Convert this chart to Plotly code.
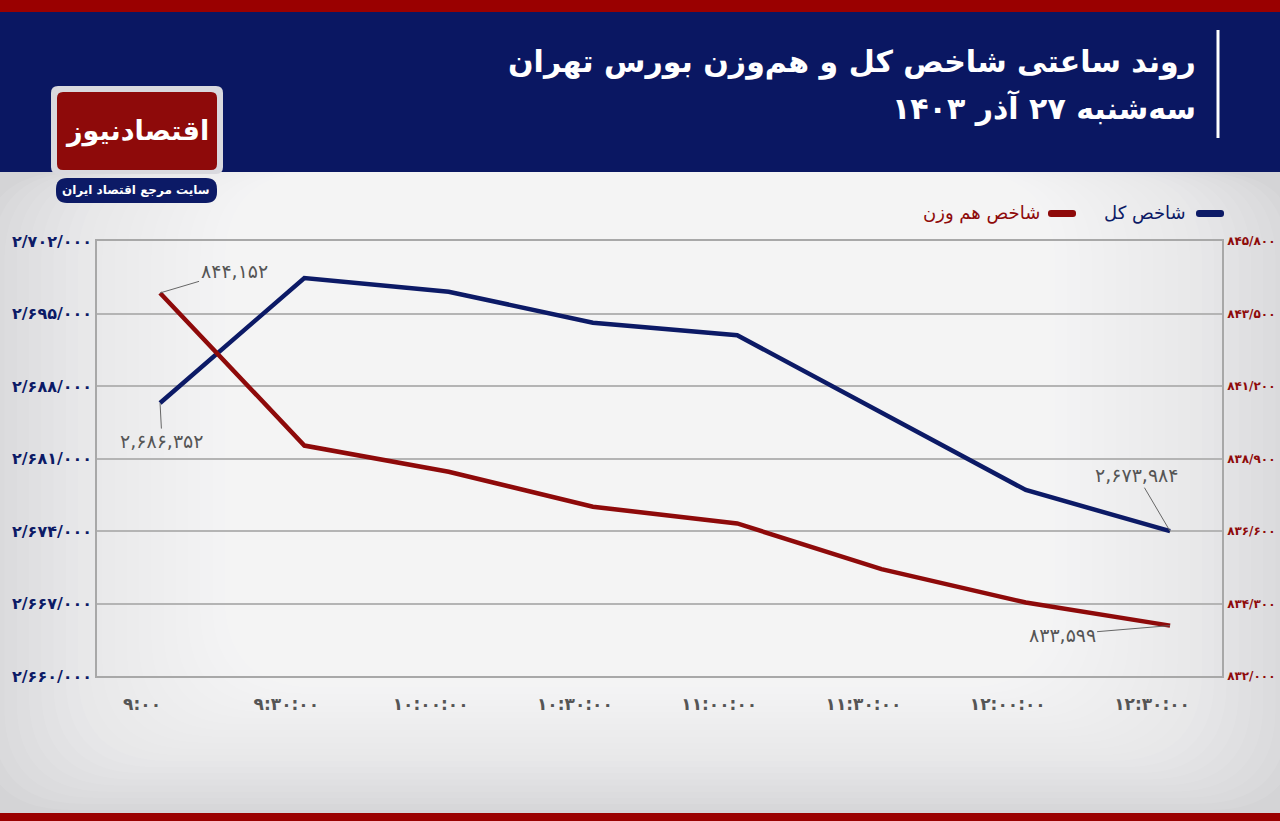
import plotly.graph_objects as go

# ---------------- data ----------------
times = ["۹:۰۰", "۹:۳۰:۰۰", "۱۰:۰۰:۰۰", "۱۰:۳۰:۰۰", "۱۱:۰۰:۰۰", "۱۱:۳۰:۰۰", "۱۲:۰۰:۰۰", "۱۲:۳۰:۰۰"]
total_index = [2686352, 2698430, 2697100, 2694110, 2692900, 2685490, 2677960, 2673984]
equal_weight = [844152, 839310, 838480, 837370, 836840, 835390, 834330, 833599]

left_ticks = [2660000, 2667000, 2674000, 2681000, 2688000, 2695000, 2702000]
left_tick_labels = ["۲/۶۶۰/۰۰۰", "۲/۶۶۷/۰۰۰", "۲/۶۷۴/۰۰۰", "۲/۶۸۱/۰۰۰", "۲/۶۸۸/۰۰۰", "۲/۶۹۵/۰۰۰", "۲/۷۰۲/۰۰۰"]
right_ticks = [832000, 834300, 836600, 838900, 841200, 843500, 845800]
right_tick_labels = ["۸۳۲/۰۰۰", "۸۳۴/۳۰۰", "۸۳۶/۶۰۰", "۸۳۸/۹۰۰", "۸۴۱/۲۰۰", "۸۴۳/۵۰۰", "۸۴۵/۸۰۰"]

name_total = "شاخص کل"
name_equal = "شاخص هم وزن"
title_line1 = "روند ساعتی شاخص کل و هم‌وزن بورس تهران"
title_line2 = "سه‌شنبه ۲۷ آذر ۱۴۰۳"
logo_text = "اقتصادنیوز"
logo_sub = "سایت مرجع اقتصاد ایران"

# ---------------- styling ----------------
NAVY = "#0c1a66"
RED = "#8e0a0a"
FONT = "DejaVu Sans"
W, H = 1280, 821
ML, MR, MT, MB = 97, 58, 241, 145
PW, PH = W - ML - MR, H - MT - MB


def fa(n):
    return f"{n:,}".translate(str.maketrans("0123456789", "۰۱۲۳۴۵۶۷۸۹"))


def px(x):
    return (x - ML) / PW


def py(y):
    return (H - MB - y) / PH


def rrect(x0, y0, x1, y1, r):
    a0, a1 = px(x0), px(x1)
    b0, b1 = py(y1), py(y0)
    rx, ry = r / PW, r / PH
    return (f"M{a0+rx},{b0} L{a1-rx},{b0} Q{a1},{b0} {a1},{b0+ry} L{a1},{b1-ry} "
            f"Q{a1},{b1} {a1-rx},{b1} L{a0+rx},{b1} Q{a0},{b1} {a0},{b1-ry} "
            f"L{a0},{b0+ry} Q{a0},{b0} {a0+rx},{b0} Z")


fig = go.Figure()
fig.add_trace(go.Scatter(x=times, y=total_index, name=name_total, mode="lines",
                         line=dict(color=NAVY, width=4.5), yaxis="y"))
fig.add_trace(go.Scatter(x=times, y=equal_weight, name=name_equal, mode="lines",
                         line=dict(color=RED, width=4.5), yaxis="y2"))

shapes = []
# background gradient (grey edges, white centre)
cx, cy = 640, 470
n = 36
for i in range(n):
    hw = 660 - i * (440 / n)
    hh = 340 - i * (220 / n)
    shapes.append(dict(type="path", xref="paper", yref="paper", layer="below",
                       path=rrect(cx - hw, max(172, cy - hh * 1.4), cx + hw, min(813, cy + hh), 90),
                       fillcolor="white", opacity=0.08, line=dict(width=0)))
# header
shapes.append(dict(type="rect", xref="paper", yref="paper", layer="below",
                   x0=px(0), x1=px(W), y0=py(172), y1=py(12),
                   fillcolor="#0a1762", line=dict(width=0)))
shapes.append(dict(type="rect", xref="paper", yref="paper", layer="below",
                   x0=px(0), x1=px(W), y0=py(12), y1=py(0),
                   fillcolor="#9a0000", line=dict(width=0)))
shapes.append(dict(type="rect", xref="paper", yref="paper", layer="below",
                   x0=px(0), x1=px(W), y0=py(H), y1=py(813),
                   fillcolor="#9a0000", line=dict(width=0)))
# title separator
shapes.append(dict(type="line", xref="paper", yref="paper",
                   x0=px(1218), x1=px(1218), y0=py(30), y1=py(138),
                   line=dict(color="white", width=3)))
# logo
shapes.append(dict(type="path", xref="paper", yref="paper", path=rrect(51, 86, 223, 174, 7),
                   fillcolor="#d9d9de", line=dict(width=0)))
shapes.append(dict(type="path", xref="paper", yref="paper", path=rrect(57, 92, 217, 170, 6),
                   fillcolor=RED, line=dict(width=0)))
shapes.append(dict(type="path", xref="paper", yref="paper", path=rrect(56, 178, 217, 203, 11),
                   fillcolor=NAVY, line=dict(width=0)))
# legend markers
shapes.append(dict(type="path", xref="paper", yref="paper", path=rrect(1196, 210, 1224, 217, 3),
                   fillcolor=NAVY, line=dict(width=0)))
shapes.append(dict(type="path", xref="paper", yref="paper", path=rrect(1048, 210, 1076, 217, 3),
                   fillcolor=RED, line=dict(width=0)))

annotations = [
    dict(text=f"<b>{title_line1}</b>", xref="paper", yref="paper", x=px(1198), y=py(62),
         xanchor="right", yanchor="middle", showarrow=False,
         font=dict(family=FONT, size=30, color="white")),
    dict(text=f"<b>{title_line2}</b>", xref="paper", yref="paper", x=px(1198), y=py(108),
         xanchor="right", yanchor="middle", showarrow=False,
         font=dict(family=FONT, size=30, color="white")),
    dict(text=f"<b>{logo_text}</b>", xref="paper", yref="paper", x=px(137), y=py(131),
         xanchor="center", yanchor="middle", showarrow=False,
         font=dict(family=FONT, size=27, color="white")),
    dict(text=f"<b>{logo_sub}</b>", xref="paper", yref="paper", x=px(136), y=py(190),
         xanchor="center", yanchor="middle", showarrow=False,
         font=dict(family=FONT, size=12, color="white")),
    dict(text=name_total, xref="paper", yref="paper", x=px(1188), y=py(213),
         xanchor="right", yanchor="middle", showarrow=False,
         font=dict(family=FONT, size=18, color=NAVY)),
    dict(text=name_equal, xref="paper", yref="paper", x=px(1042), y=py(213),
         xanchor="right", yanchor="middle", showarrow=False,
         font=dict(family=FONT, size=18, color=RED)),
]

lab_font = dict(family=FONT, size=19, color="#555555")
arrow = dict(showarrow=True, arrowhead=0, arrowwidth=1, arrowcolor="#666666")
annotations += [
    dict(x=times[0], y=equal_weight[0], xref="x", yref="y2", text=fa(equal_weight[0]),
         ax=74, ay=-22, font=lab_font, **arrow),
    dict(x=times[0], y=total_index[0], xref="x", yref="y", text=fa(total_index[0]),
         ax=2, ay=38, font=lab_font, **arrow),
    dict(x=times[-1], y=total_index[-1], xref="x", yref="y", text=fa(total_index[-1]),
         ax=-33, ay=-56, font=lab_font, **arrow),
    dict(x=times[-1], y=equal_weight[-1], xref="x", yref="y2", text=fa(equal_weight[-1]),
         ax=-108, ay=9, font=lab_font, **arrow),
]

fig.update_layout(
    width=W, height=H,
    margin=dict(l=ML, r=MR, t=MT, b=MB, autoexpand=False),
    paper_bgcolor="#d4d4d6",
    plot_bgcolor="rgba(0,0,0,0)",
    showlegend=False,
    font=dict(family=FONT),
    shapes=shapes,
    annotations=annotations,
    xaxis=dict(type="category", range=[-0.437, 7.36], showgrid=False, showline=True,
               mirror=True, linecolor="#a8a8a8", linewidth=1.5, ticks="",
               ticklabelshift=-18, ticklabelstandoff=12,
               tickfont=dict(family=FONT, size=17, color="#555555", weight="bold"),
               fixedrange=True),
    yaxis=dict(range=[2660000, 2702000], tickvals=left_ticks, ticktext=left_tick_labels,
               showgrid=True, gridcolor="#b4b4b4", gridwidth=1.5, zeroline=False,
               showline=True, linecolor="#a8a8a8", linewidth=1.5, ticks="",
               tickfont=dict(family=FONT, size=16, color=NAVY, weight="bold")),
    yaxis2=dict(range=[832000, 845800], tickvals=right_ticks, ticktext=right_tick_labels,
                overlaying="y", side="right", showgrid=False, zeroline=False,
                showline=True, linecolor="#a8a8a8", linewidth=1.5, ticks="",
                ticklabelstandoff=1,
                tickfont=dict(family=FONT, size=12, color=RED, weight="bold")),
)

fig.write_html("out.html", config={"displayModeBar": False},
               post_script="document.body.style.margin='0';document.body.style.overflow='hidden';")
